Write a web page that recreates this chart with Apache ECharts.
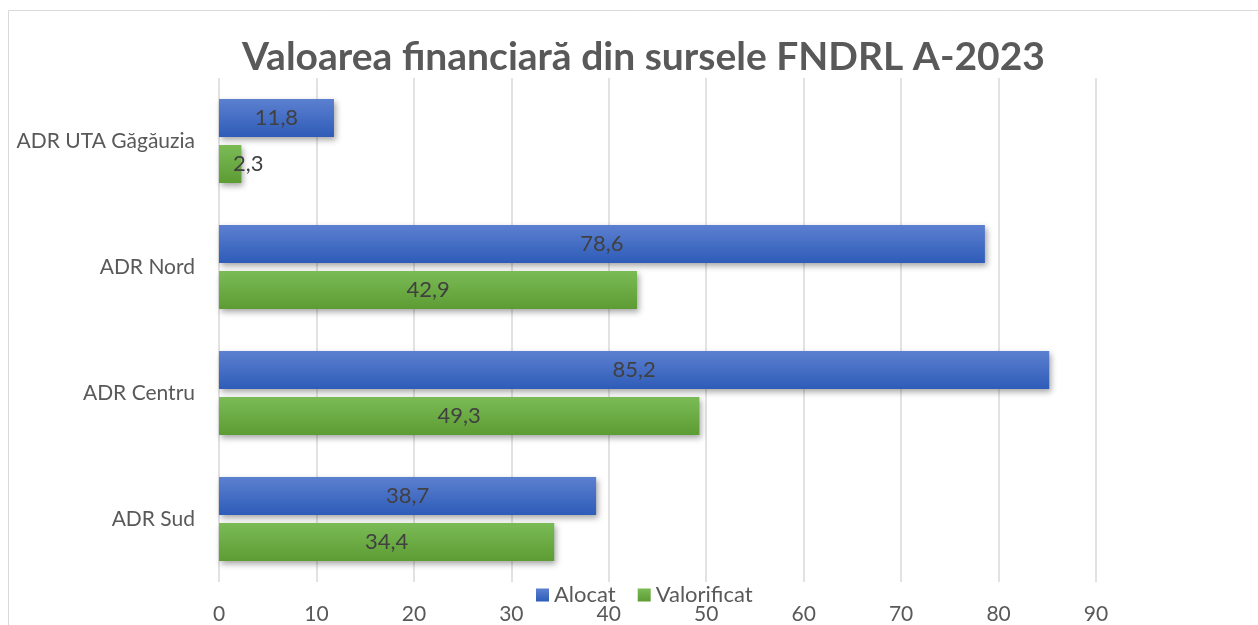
<!DOCTYPE html>
<html>
<head>
<meta charset="utf-8">
<script src="https://cdn.jsdelivr.net/npm/echarts@6/dist/echarts.min.js"></script>
<style>
  html, body { margin: 0; padding: 0; background: #fff; }
  #container { width: 1258px; height: 625px; }
</style>
</head>
<body>
<div id="container"></div>
<script>
//初始化echarts
var dom = document.getElementById('container');
var myChart = echarts.init(dom, null, { renderer: 'canvas' });

//数据
var myTitle = "Valoarea financiară din sursele FNDRL A-2023";
var categories = ['ADR Sud', 'ADR Centru', 'ADR Nord', 'ADR UTA Găgăuzia']; // bottom -> top
var alocat = [38.7, 85.2, 78.6, 11.8];
var valorificat = [34.4, 49.3, 42.9, 2.3];
var xTicks = [0, 10, 20, 30, 40, 50, 60, 70, 80, 90];

var fontName = 'Lato';
var txtColor = '#595959';

function fmt(p) {
  return String(p.value).replace('.', ',');
}

function barStyle(c1, c2) {
  return {
    color: new echarts.graphic.LinearGradient(0, 0, 0, 1, [
      { offset: 0, color: c1 },
      { offset: 1, color: c2 }
    ]),
    shadowColor: 'rgba(0,0,0,0.35)',
    shadowBlur: 6,
    shadowOffsetX: 2,
    shadowOffsetY: 3
  };
}

var labelStyle = {
  show: true,
  position: 'inside',
  color: '#404040',
  fontFamily: fontName,
  fontSize: 22,
  formatter: fmt
};

var option = {
  animation: false,
  textStyle: { fontFamily: fontName },
  title: {
    text: myTitle,
    left: 237,
    top: 33,
    textStyle: { fontFamily: fontName, fontSize: 39, fontWeight: 'bold', color: txtColor }
  },
  graphic: [{
    type: 'rect',
    shape: { x: 8.5, y: 10.5, width: 1400, height: 800 },
    style: { fill: 'none', stroke: '#d9d9d9', lineWidth: 1 },
    silent: true
  }],
  legend: {
    data: ['Alocat', 'Valorificat'],
    left: 531,
    top: 579,
    itemWidth: 13,
    itemHeight: 13,
    itemGap: 22,
    icon: 'rect',
    textStyle: { fontFamily: fontName, fontSize: 22, color: txtColor }
  },
  grid: { left: 219, right: 162, top: 78, bottom: 42, containLabel: false },
  xAxis: {
    type: 'value',
    min: xTicks[0],
    max: xTicks[xTicks.length - 1],
    interval: 10,
    axisLine: { show: false },
    axisTick: { show: false },
    splitLine: { show: true, lineStyle: { color: '#d9d9d9', width: 1.5 } },
    axisLabel: { color: txtColor, fontFamily: fontName, fontSize: 21, margin: 22 }
  },
  yAxis: {
    type: 'category',
    data: categories,
    axisLine: { show: false },
    axisTick: { show: false },
    axisLabel: { color: txtColor, fontFamily: fontName, fontSize: 21, margin: 24 }
  },
  series: [
    {
      name: 'Alocat',
      type: 'bar',
      data: alocat,
      barWidth: 38,
      barGap: '21%',
      itemStyle: barStyle('#5c80d0', '#2e5cb8'),
      label: labelStyle
    },
    {
      name: 'Valorificat',
      type: 'bar',
      data: valorificat,
      barWidth: 38,
      barGap: '21%',
      itemStyle: barStyle('#7bbb56', '#5d9c33'),
      label: labelStyle,
      // 很短的柱子，标签往右挪一点
      labelLayout: function (p) {
        return p.rect.width < 40 ? { dx: 18 } : {};
      }
    }
  ]
};

myChart.setOption(option);
window.addEventListener('resize', myChart.resize);
</script>
</body>
</html>
